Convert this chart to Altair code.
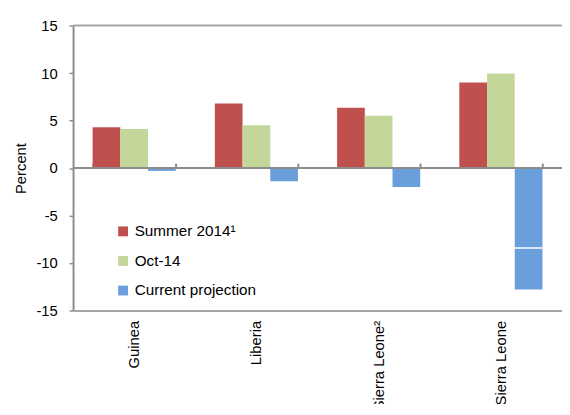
import altair as alt
import pandas as pd

countries = ["Guinea", "Liberia", "Sierra Leone²", "Sierra Leone"]
series = ["Summer 2014¹", "Oct-14", "Current projection"]
summer_2014 = [4.3, 6.8, 6.35, 9.0]
oct_14 = [4.1, 4.5, 5.5, 9.95]
current_projection = [-0.3, -1.4, -2.0, -12.8]
# white break line drawn inside the Sierra Leone current projection bar
break_country = ["Sierra Leone"]
break_value = [-8.42]

colors = ["#C0504D", "#C4D79B", "#6A9FDB"]
FONT = "Liberation Sans"
GRAY = "#8c8c8c"

rows = []
for i, c in enumerate(countries):
    for s, vals in zip(series, [summer_2014, oct_14, current_projection]):
        rows.append({"country": c, "series": s, "value": vals[i]})
df = pd.DataFrame(rows)

df_break = pd.DataFrame({
    "country": break_country,
    "series": [series[2]] * len(break_country),
    "value": [v + 0.08 for v in break_value],
    "value2": [v - 0.08 for v in break_value],
})

x_scale = alt.Scale(domain=countries, paddingInner=0.32, paddingOuter=0.16)
off_scale = alt.Scale(domain=series, paddingInner=0, paddingOuter=0)
y_scale = alt.Scale(domain=[-15, 15], nice=False)

bars = alt.Chart(df).mark_bar().encode(
    x=alt.X("country:N", sort=countries, scale=x_scale,
            axis=alt.Axis(title=None, orient="bottom", labelAngle=-90,
                          labelFontSize=15, labelFont=FONT, labelColor="black",
                          labelPadding=10, ticks=False, domainColor="#a6a6a6",
                          domainWidth=2, labelLimit=200)),
    xOffset=alt.XOffset("series:N", sort=series, scale=off_scale),
    y=alt.Y("value:Q", scale=y_scale,
            axis=alt.Axis(title="Percent", values=[-15, -10, -5, 0, 5, 10, 15],
                          labelExpr="'' + datum.value",
                          grid=False, labelFontSize=15, labelFont=FONT,
                          labelColor="black", labelPadding=12, tickSize=4,
                          tickColor=GRAY, tickWidth=1.5, domainColor=GRAY,
                          domainWidth=2, titleFontSize=15, titleFont=FONT,
                          titleFontWeight="normal", titleColor="black",
                          titlePadding=8)),
    color=alt.Color("series:N", sort=series,
                    scale=alt.Scale(domain=series, range=colors),
                    legend=alt.Legend(title=None, orient="none", legendX=43,
                                      legendY=201, symbolType="square",
                                      symbolSize=100, symbolStrokeWidth=0,
                                      labelFontSize=15.5, labelFont=FONT,
                                      labelColor="black", rowPadding=13,
                                      labelOffset=4, padding=0)),
)

breaks = alt.Chart(df_break).mark_bar(color="white").encode(
    x=alt.X("country:N", sort=countries, scale=x_scale,
            axis=alt.Axis(orient="top", offset=-144.5, domain=False,
                          labels=False, ticks=True, tickBand="extent",
                          tickSize=5, tickColor=GRAY, tickWidth=2,
                          title=None)),
    xOffset=alt.XOffset("series:N", sort=series, scale=off_scale),
    y=alt.Y("value:Q", scale=y_scale),
    y2="value2:Q",
)

zero_line = alt.Chart(pd.DataFrame({"value": [0]})).mark_rule(
    color=GRAY, strokeWidth=2).encode(y=alt.Y("value:Q", scale=y_scale))
top_line = alt.Chart(pd.DataFrame({"value": [15]})).mark_rule(
    color="#a6a6a6", strokeWidth=2).encode(y=alt.Y("value:Q", scale=y_scale))

chart = alt.layer(bars, breaks, top_line, zero_line).properties(
    width=496, height=289,
    autosize=alt.AutoSizeParams(type="none"),
    padding={"left": 66, "top": 15, "right": 0, "bottom": 92},
).configure_view(stroke=None)

chart.save("out.html", embed_options={"renderer": "svg", "actions": False})
